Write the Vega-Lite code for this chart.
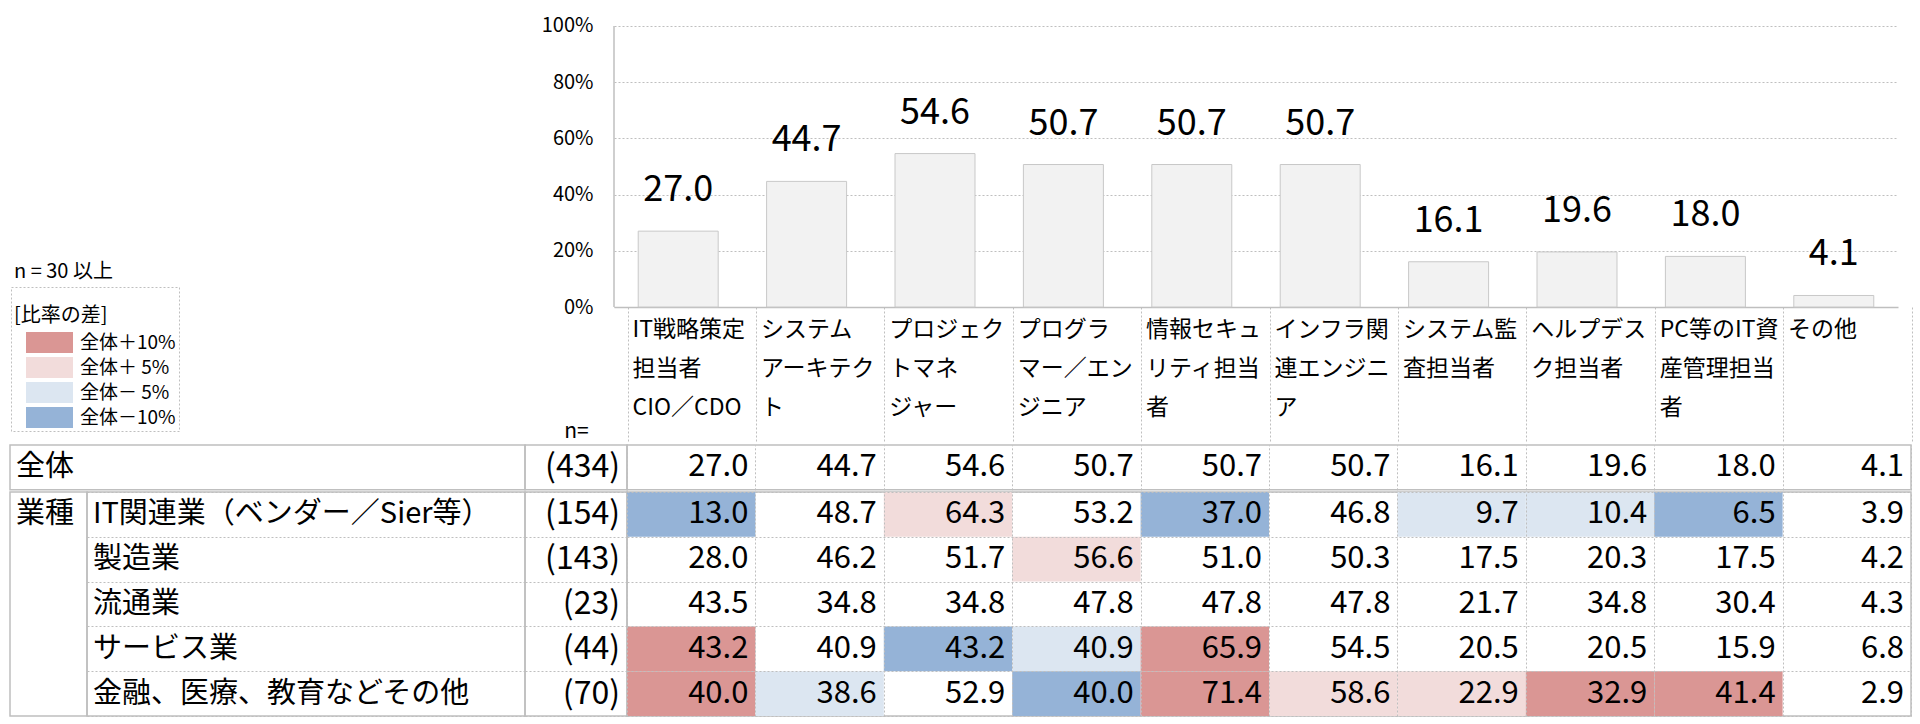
{
  "$schema": "https://vega.github.io/schema/vega-lite/v6.json",
  "padding": {"left": 9, "top": 0, "right": 0, "bottom": 0},
  "background": "white",
  "config": {
    "font": "Noto Sans CJK JP",
    "view": {"stroke": null},
    "concat": {"spacing": 0},
    "legend": {"strokeColor": "#bfbfbf", "strokeDash": [2, 2], "padding": 3},
    "text": {"color": "#000"},
    "axis": {"labelColor": "#000"}
  },
  "datasets": {
    "cells": [
      {"row": "全体", "col": "IT戦略策定|担当者|CIO／CDO", "v": 27.0},
      {"row": "全体", "col": "システム|アーキテク|ト", "v": 44.7},
      {"row": "全体", "col": "プロジェク|トマネ|ジャー", "v": 54.6},
      {"row": "全体", "col": "プログラ|マー／エン|ジニア", "v": 50.7},
      {"row": "全体", "col": "情報セキュ|リティ担当|者", "v": 50.7},
      {"row": "全体", "col": "インフラ関|連エンジニ|ア", "v": 50.7},
      {"row": "全体", "col": "システム監|査担当者", "v": 16.1},
      {"row": "全体", "col": "ヘルプデス|ク担当者", "v": 19.6},
      {"row": "全体", "col": "PC等のIT資|産管理担当|者", "v": 18.0},
      {"row": "全体", "col": "その他", "v": 4.1},
      {"row": "IT関連業（ベンダー／Sier等）", "col": "IT戦略策定|担当者|CIO／CDO", "v": 13.0, "diff": "全体－10%"},
      {"row": "IT関連業（ベンダー／Sier等）", "col": "システム|アーキテク|ト", "v": 48.7},
      {"row": "IT関連業（ベンダー／Sier等）", "col": "プロジェク|トマネ|ジャー", "v": 64.3, "diff": "全体＋ 5%"},
      {"row": "IT関連業（ベンダー／Sier等）", "col": "プログラ|マー／エン|ジニア", "v": 53.2},
      {"row": "IT関連業（ベンダー／Sier等）", "col": "情報セキュ|リティ担当|者", "v": 37.0, "diff": "全体－10%"},
      {"row": "IT関連業（ベンダー／Sier等）", "col": "インフラ関|連エンジニ|ア", "v": 46.8},
      {"row": "IT関連業（ベンダー／Sier等）", "col": "システム監|査担当者", "v": 9.7, "diff": "全体－ 5%"},
      {"row": "IT関連業（ベンダー／Sier等）", "col": "ヘルプデス|ク担当者", "v": 10.4, "diff": "全体－ 5%"},
      {"row": "IT関連業（ベンダー／Sier等）", "col": "PC等のIT資|産管理担当|者", "v": 6.5, "diff": "全体－10%"},
      {"row": "IT関連業（ベンダー／Sier等）", "col": "その他", "v": 3.9},
      {"row": "製造業", "col": "IT戦略策定|担当者|CIO／CDO", "v": 28.0},
      {"row": "製造業", "col": "システム|アーキテク|ト", "v": 46.2},
      {"row": "製造業", "col": "プロジェク|トマネ|ジャー", "v": 51.7},
      {"row": "製造業", "col": "プログラ|マー／エン|ジニア", "v": 56.6, "diff": "全体＋ 5%"},
      {"row": "製造業", "col": "情報セキュ|リティ担当|者", "v": 51.0},
      {"row": "製造業", "col": "インフラ関|連エンジニ|ア", "v": 50.3},
      {"row": "製造業", "col": "システム監|査担当者", "v": 17.5},
      {"row": "製造業", "col": "ヘルプデス|ク担当者", "v": 20.3},
      {"row": "製造業", "col": "PC等のIT資|産管理担当|者", "v": 17.5},
      {"row": "製造業", "col": "その他", "v": 4.2},
      {"row": "流通業", "col": "IT戦略策定|担当者|CIO／CDO", "v": 43.5},
      {"row": "流通業", "col": "システム|アーキテク|ト", "v": 34.8},
      {"row": "流通業", "col": "プロジェク|トマネ|ジャー", "v": 34.8},
      {"row": "流通業", "col": "プログラ|マー／エン|ジニア", "v": 47.8},
      {"row": "流通業", "col": "情報セキュ|リティ担当|者", "v": 47.8},
      {"row": "流通業", "col": "インフラ関|連エンジニ|ア", "v": 47.8},
      {"row": "流通業", "col": "システム監|査担当者", "v": 21.7},
      {"row": "流通業", "col": "ヘルプデス|ク担当者", "v": 34.8},
      {"row": "流通業", "col": "PC等のIT資|産管理担当|者", "v": 30.4},
      {"row": "流通業", "col": "その他", "v": 4.3},
      {"row": "サービス業", "col": "IT戦略策定|担当者|CIO／CDO", "v": 43.2, "diff": "全体＋10%"},
      {"row": "サービス業", "col": "システム|アーキテク|ト", "v": 40.9},
      {"row": "サービス業", "col": "プロジェク|トマネ|ジャー", "v": 43.2, "diff": "全体－10%"},
      {"row": "サービス業", "col": "プログラ|マー／エン|ジニア", "v": 40.9, "diff": "全体－ 5%"},
      {"row": "サービス業", "col": "情報セキュ|リティ担当|者", "v": 65.9, "diff": "全体＋10%"},
      {"row": "サービス業", "col": "インフラ関|連エンジニ|ア", "v": 54.5},
      {"row": "サービス業", "col": "システム監|査担当者", "v": 20.5},
      {"row": "サービス業", "col": "ヘルプデス|ク担当者", "v": 20.5},
      {"row": "サービス業", "col": "PC等のIT資|産管理担当|者", "v": 15.9},
      {"row": "サービス業", "col": "その他", "v": 6.8},
      {"row": "金融、医療、教育などその他", "col": "IT戦略策定|担当者|CIO／CDO", "v": 40.0, "diff": "全体＋10%"},
      {"row": "金融、医療、教育などその他", "col": "システム|アーキテク|ト", "v": 38.6, "diff": "全体－ 5%"},
      {"row": "金融、医療、教育などその他", "col": "プロジェク|トマネ|ジャー", "v": 52.9},
      {"row": "金融、医療、教育などその他", "col": "プログラ|マー／エン|ジニア", "v": 40.0, "diff": "全体－10%"},
      {"row": "金融、医療、教育などその他", "col": "情報セキュ|リティ担当|者", "v": 71.4, "diff": "全体＋10%"},
      {"row": "金融、医療、教育などその他", "col": "インフラ関|連エンジニ|ア", "v": 58.6, "diff": "全体＋ 5%"},
      {"row": "金融、医療、教育などその他", "col": "システム監|査担当者", "v": 22.9, "diff": "全体＋ 5%"},
      {"row": "金融、医療、教育などその他", "col": "ヘルプデス|ク担当者", "v": 32.9, "diff": "全体＋10%"},
      {"row": "金融、医療、教育などその他", "col": "PC等のIT資|産管理担当|者", "v": 41.4, "diff": "全体＋10%"},
      {"row": "金融、医療、教育などその他", "col": "その他", "v": 2.9}
    ],
    "rows": [
      {"row": "全体", "group": "全体", "n": 434},
      {"row": "IT関連業（ベンダー／Sier等）", "group": "業種", "n": 154},
      {"row": "製造業", "group": "業種", "n": 143},
      {"row": "流通業", "group": "業種", "n": 23},
      {"row": "サービス業", "group": "業種", "n": 44},
      {"row": "金融、医療、教育などその他", "group": "業種", "n": 70}
    ]
  },
  "spacing": 0,
  "bounds": "full",
  "vconcat": [
    {
      "spacing": 0,
      "bounds": "flush",
      "hconcat": [
        {
          "width": 604, "height": 443,
          "data": {"values": []}, "mark": "point", "encoding": {},
          "title": {"text": "n = 30 以上", "orient": "bottom", "anchor": "start", "frame": "group", "offset": -181, "dx": 4, "fontSize": 20, "fontWeight": "normal", "color": "#000"}
        },
        {
          "width": 1284, "height": 307,
          "data": {"name": "cells"},
          "transform": [{"filter": "datum.row === '全体'"}],
          "layer": [
            {
              "mark": {"type": "bar", "fill": "#f2f2f2", "stroke": "#c8c8c8", "strokeWidth": 1, "width": {"band": 0.623}},
              "encoding": {
                "x": {"field": "col", "type": "nominal", "sort": null,
                      "scale": {"type": "band", "paddingInner": 0, "paddingOuter": 0},
                      "axis": {"orient": "bottom", "title": null, "labelAngle": 0, "labelExpr": "split(datum.label, '|')", "labelAlign": "left", "labelBaseline": "top", "labelOffset": -59.8, "labelPadding": -125, "labelLineHeight": 39, "labelFontSize": 23, "labelFlush": false, "labelOverlap": false, "labelBound": false, "labelLimit": 300,
                               "ticks": true, "tickSize": 136, "bandPosition": 1, "tickExtra": true, "tickOffset": 13.6, "tickColor": "#bfbfbf", "tickDash": [2, 2], "tickWidth": 1,
                               "grid": false, "domain": true, "domainColor": "#bfbfbf", "domainWidth": 1.5}},
                "y": {"field": "v", "type": "quantitative", "scale": {"domain": [0, 109.25], "nice": false},
                      "axis": {"values": [0, 20, 40, 60, 80, 100], "labelExpr": "datum.value + '%'", "grid": true, "gridDash": [2, 2], "gridColor": "#bfbfbf", "domain": false, "ticks": false, "labelPadding": 21, "labelFontSize": 20,
                               "title": "n=", "titleAngle": 0, "titleX": -38, "titleY": 431, "titleAlign": "center", "titleBaseline": "middle", "titleFontSize": 21, "titleFontWeight": "normal", "titleColor": "#000"}}
              }
            },
            {
              "mark": {"type": "text", "baseline": "alphabetic", "dy": -30, "fontSize": 36},
              "encoding": {
                "x": {"field": "col", "type": "nominal", "sort": null},
                "y": {"field": "v", "type": "quantitative"},
                "text": {"field": "v", "type": "quantitative", "format": ".1f"}
              }
            },
            {
              "data": {"values": [{"axis": "y"}]},
              "mark": {"type": "rule", "color": "#bfbfbf", "strokeWidth": 1.5},
              "encoding": {
                "x": {"datum": "IT戦略策定|担当者|CIO／CDO", "type": "nominal", "bandPosition": 0},
                "y": {"datum": 0, "type": "quantitative"},
                "y2": {"datum": 100}
              }
            }
          ]
        }
      ]
    },
    {
      "spacing": 0,
      "bounds": "flush",
      "hconcat": [
        {
          "width": 515, "height": 44.8,
          "view": {"stroke": "#bfbfbf", "strokeWidth": 1.5},
          "data": {"name": "rows"},
          "transform": [{"filter": "datum.group === '全体'"}],
          "mark": {"type": "text", "align": "left", "baseline": "middle", "dx": 6, "fontSize": 29},
          "encoding": {
            "x": {"field": "group", "type": "nominal", "scale": {"type": "band", "paddingInner": 0, "paddingOuter": 0}, "bandPosition": 0, "axis": null},
            "y": {"field": "row", "type": "nominal", "scale": {"type": "band", "paddingInner": 0, "paddingOuter": 0}, "axis": null},
            "text": {"field": "row"}
          }
        },
        {
          "width": 102, "height": 44.8,
          "view": {"stroke": "#bfbfbf", "strokeWidth": 1.5},
          "data": {"name": "rows"},
          "transform": [{"filter": "datum.group === '全体'"}],
          "mark": {"type": "text", "align": "right", "baseline": "middle", "dx": -7, "fontSize": 32, "text": {"expr": "'(' + datum.n + ')'"}},
          "encoding": {
            "x": {"field": "group", "type": "nominal", "scale": {"type": "band", "paddingInner": 0, "paddingOuter": 0}, "bandPosition": 1, "axis": null},
            "y": {"field": "row", "type": "nominal", "scale": {"type": "band", "paddingInner": 0, "paddingOuter": 0}, "axis": null}
          }
        },
        {
          "width": 1284, "height": 44.8,
          "view": {"stroke": "#bfbfbf", "strokeWidth": 1.5},
          "data": {"name": "cells"},
          "transform": [{"filter": "datum.row === '全体'"}],
          "mark": {"type": "text", "align": "right", "baseline": "middle", "dx": -7, "fontSize": 31},
          "encoding": {
            "x": {"field": "col", "type": "nominal", "sort": null, "bandPosition": 1,
                  "scale": {"type": "band", "paddingInner": 0, "paddingOuter": 0},
                  "axis": {"title": null, "labels": false, "ticks": false, "domain": false, "grid": true, "tickBand": "extent", "gridColor": "#bfbfbf", "gridDash": [2, 2], "gridWidth": 1}},
            "y": {"field": "row", "type": "nominal", "scale": {"type": "band", "paddingInner": 0, "paddingOuter": 0}, "axis": null},
            "text": {"field": "v", "type": "quantitative", "format": ".1f"}
          }
        }
      ]
    },
    {
      "spacing": 0,
      "bounds": "flush",
      "hconcat": [
        {
          "width": 77, "height": 224,
          "view": {"stroke": "#bfbfbf", "strokeWidth": 1.5},
          "data": {"name": "rows"},
          "transform": [{"filter": "datum.row === 'IT関連業（ベンダー／Sier等）'"}],
          "mark": {"type": "text", "align": "left", "baseline": "middle", "dx": 6, "fontSize": 29},
          "encoding": {
            "x": {"field": "group", "type": "nominal", "scale": {"type": "band", "paddingInner": 0, "paddingOuter": 0}, "bandPosition": 0, "axis": null},
            "y": {"field": "row", "type": "nominal",
                  "scale": {"type": "band", "paddingInner": 0, "paddingOuter": 0, "domain": ["IT関連業（ベンダー／Sier等）", "製造業", "流通業", "サービス業", "金融、医療、教育などその他"]},
                  "axis": null},
            "text": {"field": "group"}
          }
        },
        {
          "width": 438, "height": 224,
          "view": {"stroke": "#bfbfbf", "strokeWidth": 1.5},
          "data": {"name": "rows"},
          "transform": [{"filter": "datum.group === '業種'"}],
          "mark": {"type": "text", "align": "left", "baseline": "middle", "dx": 6, "fontSize": 29},
          "encoding": {
            "x": {"field": "group", "type": "nominal", "scale": {"type": "band", "paddingInner": 0, "paddingOuter": 0}, "bandPosition": 0, "axis": null},
            "y": {"field": "row", "type": "nominal", "sort": null,
                  "scale": {"type": "band", "paddingInner": 0, "paddingOuter": 0},
                  "axis": {"title": null, "labels": false, "ticks": false, "domain": false, "grid": true, "tickBand": "extent", "gridColor": "#bfbfbf", "gridDash": [2, 2], "gridWidth": 1}},
            "text": {"field": "row"}
          }
        },
        {
          "width": 102, "height": 224,
          "view": {"stroke": "#bfbfbf", "strokeWidth": 1.5},
          "data": {"name": "rows"},
          "transform": [{"filter": "datum.group === '業種'"}],
          "mark": {"type": "text", "align": "right", "baseline": "middle", "dx": -7, "fontSize": 32, "text": {"expr": "'(' + datum.n + ')'"}},
          "encoding": {
            "x": {"field": "group", "type": "nominal", "scale": {"type": "band", "paddingInner": 0, "paddingOuter": 0}, "bandPosition": 1, "axis": null},
            "y": {"field": "row", "type": "nominal", "sort": null,
                  "scale": {"type": "band", "paddingInner": 0, "paddingOuter": 0},
                  "axis": {"title": null, "labels": false, "ticks": false, "domain": false, "grid": true, "tickBand": "extent", "gridColor": "#bfbfbf", "gridDash": [2, 2], "gridWidth": 1}}
          }
        },
        {
          "width": 1284, "height": 224,
          "view": {"stroke": "#bfbfbf", "strokeWidth": 1.5},
          "data": {"name": "cells"},
          "transform": [{"filter": "datum.row !== '全体'"}],
          "encoding": {
            "x": {"field": "col", "type": "nominal",
                  "scale": {"type": "band", "paddingInner": 0, "paddingOuter": 0,
                            "domain": ["IT戦略策定|担当者|CIO／CDO", "システム|アーキテク|ト", "プロジェク|トマネ|ジャー", "プログラ|マー／エン|ジニア", "情報セキュ|リティ担当|者", "インフラ関|連エンジニ|ア", "システム監|査担当者", "ヘルプデス|ク担当者", "PC等のIT資|産管理担当|者", "その他"]},
                  "axis": {"title": null, "labels": false, "ticks": false, "domain": false, "grid": true, "tickBand": "extent", "gridColor": "#bfbfbf", "gridDash": [2, 2], "gridWidth": 1}},
            "y": {"field": "row", "type": "nominal",
                  "scale": {"type": "band", "paddingInner": 0, "paddingOuter": 0,
                            "domain": ["IT関連業（ベンダー／Sier等）", "製造業", "流通業", "サービス業", "金融、医療、教育などその他"]},
                  "axis": {"title": null, "labels": false, "ticks": false, "domain": false, "grid": true, "tickBand": "extent", "gridColor": "#bfbfbf", "gridDash": [2, 2], "gridWidth": 1}}
          },
          "layer": [
            {
              "transform": [{"filter": "datum.diff != null"}],
              "mark": {"type": "rect"},
              "encoding": {
                "color": {"field": "diff", "type": "nominal",
                          "scale": {"domain": ["全体＋10%", "全体＋ 5%", "全体－ 5%", "全体－10%"], "range": ["#da9694", "#f2dcdb", "#dce6f1", "#95b3d7"]},
                          "legend": {"orient": "none", "legendX": 1, "legendY": 287, "direction": "vertical",
                                     "title": [" ", "[比率の差]"], "titleFontSize": 20, "titleFontWeight": "normal", "titleColor": "#000", "titleLineHeight": 16, "titlePadding": 6, "titleAnchor": "start",
                                     "labelFontSize": 19, "labelColor": "#000", "labelBaseline": "middle", "labelOffset": 7,
                                     "symbolType": "M-1,-0.447H1V0.447H-1Z", "symbolSize": 2209, "symbolStrokeWidth": 0, "symbolOpacity": 1,
                                     "clipHeight": 21, "rowPadding": 4, "symbolOffset": 12}}
              }
            },
            {
              "mark": {"type": "text", "align": "right", "baseline": "middle", "dx": -7, "fontSize": 31},
              "encoding": {
                "x": {"field": "col", "type": "nominal", "bandPosition": 1},
                "text": {"field": "v", "type": "quantitative", "format": ".1f"}
              }
            }
          ]
        }
      ]
    }
  ]
}
